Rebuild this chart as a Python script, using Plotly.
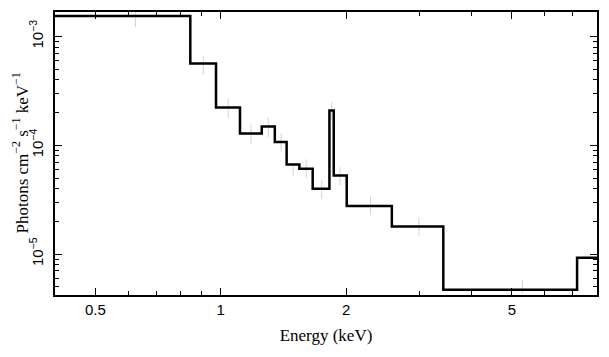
import numpy as np
import plotly.graph_objects as go

# Model step spectrum: bin edges (keV) and level per bin (photons cm^-2 s^-1 keV^-1)
bin_edges = [0.40, 0.845, 0.974, 1.112, 1.254, 1.348, 1.439, 1.544, 1.662,
             1.823, 1.867, 2.006, 2.574, 3.421, 7.166, 8.0]
model_vals = [1.54e-3, 5.65e-4, 2.22e-4, 1.28e-4, 1.49e-4, 1.07e-4, 6.65e-5,
              6.07e-5, 3.98e-5, 2.09e-4, 5.27e-5, 2.76e-5, 1.79e-5, 4.69e-6, 9.22e-6]

# Data points (faint error bars)
data_E = [0.624, 0.908, 1.042, 1.182, 1.30, 1.396, 1.493, 1.603, 1.747,
          1.846, 1.934, 2.288, 2.989, 5.30]
data_lo = [1.22e-3, 4.48e-4, 1.77e-4, 1.02e-4, 1.18e-4, 8.8e-5, 5.3e-5,
           4.98e-5, 3.2e-5, 1.69e-4, 4.3e-5, 2.28e-5, 1.46e-5, 4.38e-6]
data_hi = [1.70e-3, 6.7e-4, 2.7e-4, 1.56e-4, 1.81e-4, 1.29e-4, 6.84e-5,
           7.45e-5, 4.78e-5, 2.49e-4, 6.28e-5, 3.4e-5, 2.18e-5, 5.77e-6]

x_major = [0.5, 1, 2, 5]
x_major_text = ["0.5", "1", "2", "5"]
x_minor = [0.4, 0.6, 0.7, 0.8, 0.9, 3, 4, 6, 7, 8]
y_major = [1e-5, 1e-4, 1e-3]
y_major_text = ["10<sup>−5</sup>", "10<sup>−4</sup>", "10<sup>−3</sup>"]
y_minor = [m * 10.0 ** e for e in (-6, -5, -4, -3) for m in range(2, 10)]
y_title = "Photons cm<sup>−2</sup> s<sup>−1</sup> keV<sup>−1</sup>"
x_title = "Energy (keV)"

fig = go.Figure()

# error bars
yc = [np.sqrt(a * b) for a, b in zip(data_lo, data_hi)]
fig.add_trace(go.Scatter(
    x=data_E, y=yc, mode="markers",
    marker=dict(size=0.1, color="rgba(0,0,0,0)"),
    error_y=dict(type="data", symmetric=False,
                 array=[h - c for h, c in zip(data_hi, yc)],
                 arrayminus=[c - l for c, l in zip(yc, data_lo)],
                 width=0, thickness=1, color="#d4d4d4"),
    showlegend=False, hoverinfo="skip"))

# step model
fig.add_trace(go.Scatter(
    x=bin_edges, y=model_vals + [model_vals[-1]], mode="lines",
    line=dict(shape="hv", color="black", width=2.5),
    showlegend=False))

fig.update_layout(
    width=601, height=349,
    margin=dict(l=47, r=12, t=4, b=62, autoexpand=False),
    paper_bgcolor="white", plot_bgcolor="white",
    font=dict(family="Liberation Sans", size=14, color="black"),
)
fig.update_xaxes(
    type="log", range=[np.log10(0.4), np.log10(8.0)],
    automargin=False,
    tickmode="array", tickvals=x_major, ticktext=x_major_text,
    ticks="inside", ticklen=7, tickwidth=1, tickcolor="black",
    minor=dict(tickmode="array", tickvals=x_minor, ticks="inside", ticklen=4,
               tickwidth=1, tickcolor="black", showgrid=False),
    showline=True, linecolor="black", linewidth=1.5, mirror="allticks",
    showgrid=False, zeroline=False,
    tickfont=dict(family="Liberation Sans", size=15),
    ticklabelstandoff=0,
    title=dict(text=x_title, font=dict(family="Liberation Serif", size=17), standoff=12),
)
fig.update_yaxes(
    type="log", range=[np.log10(4.2e-6), np.log10(1.68e-3)],
    automargin=False,
    tickmode="array", tickvals=y_major, ticktext=y_major_text,
    ticks="inside", ticklen=7, tickwidth=1, tickcolor="black",
    minor=dict(tickmode="array", tickvals=y_minor, ticks="inside", ticklen=4,
               tickwidth=1, tickcolor="black", showgrid=False),
    showline=True, linecolor="black", linewidth=1.5, mirror="allticks",
    showgrid=False, zeroline=False,
    tickangle=-90,
    tickfont=dict(family="Liberation Sans", size=15),
    ticklabelstandoff=4,
)
fig.add_annotation(
    text=y_title, textangle=-90, showarrow=False,
    xref="paper", yref="paper", x=0, y=0.5, xanchor="center", yanchor="middle",
    xshift=-35, font=dict(family="Liberation Serif", size=17, color="black"))

fig.write_html("out.html")
